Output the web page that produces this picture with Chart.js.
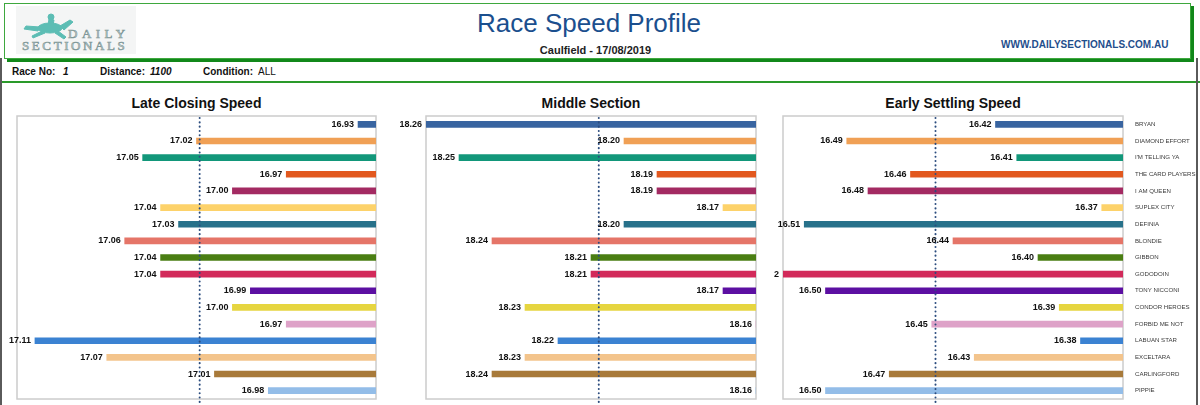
<!DOCTYPE html>
<html>
<head>
<meta charset="utf-8">
<script src="https://cdn.jsdelivr.net/npm/chart.js@4.4.1/dist/chart.umd.min.js"></script>
<style>
  html, body { margin: 0; padding: 0; background: #fff; }
  body { width: 1200px; height: 405px; position: relative; overflow: hidden; font-family: Arial, "Liberation Sans", sans-serif; }
  .abs { position: absolute; }
  #header { left: 4px; top: 3px; width: 1185px; height: 54px; border: 1px solid #3ea83e; box-shadow: 3px 3px 0 #11881a; }
  #logo { left: 16px; top: 6px; width: 120px; height: 48px; background: #f4f5f5; }
  .logoText { position: absolute; font-family: "Liberation Serif", "DejaVu Serif", serif; color: #c3d0d0; -webkit-text-stroke: 0.6px #7f9797; white-space: nowrap; }
  #title { left: 0; width: 1178px; top: 8px; text-align: center; font-size: 26px; color: #1b4f8e; }
  #subtitle { left: 0; width: 1191px; top: 44px; text-align: center; font-size: 11px; font-weight: bold; color: #222; }
  #site { left: 1001px; top: 39px; font-size: 10px; font-weight: bold; color: #1f4e8c; }
  #raceRow { left: 12px; top: 66px; font-size: 10px; color: #111; }
  #raceRow span { position: absolute; white-space: nowrap; font-weight: bold; }
  #raceRow i { font-weight: bold; }
  #rule { left: 0; top: 81px; width: 1200px; height: 2px; background: #2a9a2a; }
  #sideL { left: 0; top: 58px; width: 2px; height: 347px; background: #5a5a5a; }
  #sideR { left: 1196px; top: 58px; width: 2px; height: 347px; background: #5a5a5a; }
  .chartTitle { top: 95px; font-size: 14px; font-weight: bold; color: #111; text-align: center; }
  canvas { position: absolute; }
</style>
</head>
<body>
<div id="header" class="abs"></div>
<div id="logo" class="abs">
  <svg width="60" height="32" style="position:absolute;left:4px;top:2px">
    <g fill="#5cbdb4" stroke="#5cbdb4">
      <ellipse cx="30" cy="20" rx="12" ry="5" />
      <path d="M40 18 L50 12 L53 14 L44 22 Z" />
      <path d="M20 19 L6 18 L4 21 L18 23 Z" />
      <path d="M38 23 L46 29 L44 31 L35 25 Z" />
      <path d="M22 23 L12 28 L13 30 L25 25 Z" />
      <circle cx="31" cy="9" r="3" />
      <path d="M29 11 L34 12 L33 17 L28 17 Z" />
    </g>
  </svg>
  <div class="logoText" style="left:52px;top:20px;font-size:13px;letter-spacing:4.5px;">DAILY</div>
  <div class="logoText" style="left:6px;top:32px;font-size:13px;letter-spacing:2.6px;">SECTIONALS</div>
</div>
<div id="title" class="abs">Race Speed Profile</div>
<div id="subtitle" class="abs">Caulfield - 17/08/2019</div>
<div id="site" class="abs">WWW.DAILYSECTIONALS.COM.AU</div>
<div id="raceRow" class="abs">
  <span style="left:0">Race No:</span>
  <span style="left:51px"><i>1</i></span>
  <span style="left:88px">Distance:</span>
  <span style="left:138px"><i>1100</i></span>
  <span style="left:191px">Condition:</span>
  <span style="left:246px;font-weight:normal">ALL</span>
</div>
<div id="rule" class="abs"></div>
<div id="sideL" class="abs"></div>
<div id="sideR" class="abs"></div>

<div class="abs chartTitle" style="left:17px;width:359px;">Late Closing Speed</div>
<div class="abs chartTitle" style="left:426px;width:330px;">Middle Section</div>
<div class="abs chartTitle" style="left:783px;width:340px;">Early Settling Speed</div>

<canvas id="lateCanvas" width="390" height="295" style="left:0;top:110px"></canvas>
<canvas id="middleCanvas" width="380" height="295" style="left:390px;top:110px"></canvas>
<canvas id="earlyCanvas" width="422" height="295" style="left:774px;top:110px"></canvas>

<script>
(function() {
  'use strict';

  // Horses in race order
  const horses = ['BRYAN', 'DIAMOND EFFORT', "I'M TELLING YA", 'THE CARD PLAYERS', 'I AM QUEEN',
    'SUPLEX CITY', 'DEFINIA', 'BLONDIE', 'GIBBON', 'GODODOIN', 'TONY NICCONI', 'CONDOR HEROES',
    'FORBID ME NOT', 'LABUAN STAR', 'EXCELTARA', 'CARLINGFORD', 'PIPPIE'];

  const lateClosing = [16.93, 17.02, 17.05, 16.97, 17.00, 17.04, 17.03, 17.06, 17.04, 17.04,
    16.99, 17.00, 16.97, 17.11, 17.07, 17.01, 16.98];
  const middleSection = [18.26, 18.20, 18.25, 18.19, 18.19, 18.17, 18.20, 18.24, 18.21, 18.21,
    18.17, 18.23, 18.16, 18.22, 18.23, 18.24, 18.16];
  const earlySettling = [16.42, 16.49, 16.41, 16.46, 16.48, 16.37, 16.51, 16.44, 16.40, 16.52,
    16.50, 16.39, 16.45, 16.38, 16.43, 16.47, 16.50];

  // axis ranges [right edge, left edge] (axis is reversed)
  const lateRange = [16.92, 17.12];
  const middleRange = [18.16, 18.26];
  const earlyRange = [16.36, 16.52];

  const horseColors = ['#3864a0', '#f0a055', '#12977a', '#e2581e', '#a32a62', '#fdd26a', '#27718a',
    '#e57568', '#4a7e13', '#d22a5a', '#5c0fa2', '#e6d540', '#dea2c8', '#3b82d2', '#f3c48c',
    '#a87a3a', '#93bde8'];

  function mean(arr) {
    return arr.reduce(function(a, b) { return a + b; }, 0) / arr.length;
  }

  // box, dotted average line, value labels
  const speedPlugin = {
    id: 'speedPlugin',
    beforeDatasetsDraw(chart) {
      const a = chart.chartArea;
      const ctx = chart.ctx;
      ctx.save();
      ctx.strokeStyle = '#cccccc';
      ctx.lineWidth = 1.5;
      ctx.strokeRect(a.left, a.top, a.right - a.left, a.bottom - a.top);
      ctx.restore();
    },
    afterDatasetsDraw(chart) {
      const ctx = chart.ctx;
      const a = chart.chartArea;
      const values = chart.data.datasets[0].data;
      const avgX = chart.scales.x.getPixelForValue(mean(values));

      ctx.save();
      ctx.strokeStyle = '#2b4c7e';
      ctx.lineWidth = 2;
      ctx.lineCap = 'round';
      ctx.setLineDash([0.1, 4.2]);
      ctx.beginPath();
      ctx.moveTo(avgX, a.top + 2);
      ctx.lineTo(avgX, a.bottom + 5);
      ctx.stroke();
      ctx.restore();

      ctx.save();
      ctx.font = 'bold 9px Arial, "Liberation Sans", sans-serif';
      ctx.fillStyle = '#111';
      ctx.textAlign = 'right';
      ctx.textBaseline = 'middle';
      chart.getDatasetMeta(0).data.forEach(function(bar, i) {
        ctx.fillText(values[i].toFixed(2), bar.x - 4, bar.y);
      });
      ctx.restore();
    }
  };

  function makeChart(id, values, range, pad, showNames) {
    return new Chart(document.getElementById(id), {
      type: 'bar',
      data: {
        labels: horses,
        datasets: [{
          data: values,
          backgroundColor: horseColors,
          borderWidth: 0,
          barThickness: 6
        }]
      },
      options: {
        indexAxis: 'y',
        responsive: false,
        animation: false,
        layout: { padding: pad },
        plugins: {
          legend: { display: false },
          tooltip: { enabled: false }
        },
        scales: {
          x: {
            display: false,
            reverse: true,
            min: range[0],
            max: range[1]
          },
          y: {
            display: showNames,
            position: 'right',
            grid: { display: false },
            border: { display: false },
            afterFit: function(axis) {
              if (!showNames) return;
              axis.width = 73;
              axis.paddingTop = 0;
              axis.paddingBottom = 0;
            },
            ticks: {
              padding: 4,
              autoSkip: false,
              color: '#3a3a3a',
              font: { size: 6.1, family: 'Arial, "Liberation Sans", sans-serif' }
            }
          }
        }
      },
      plugins: [speedPlugin]
    });
  }

  const pad = { top: 6, bottom: 6 };
  makeChart('lateCanvas', lateClosing, lateRange, Object.assign({ left: 17, right: 14 }, pad), false);
  makeChart('middleCanvas', middleSection, middleRange, Object.assign({ left: 36, right: 14 }, pad), false);
  makeChart('earlyCanvas', earlySettling, earlyRange, Object.assign({ left: 9, right: 0 }, pad), true);

})();
</script>
</body>
</html>
